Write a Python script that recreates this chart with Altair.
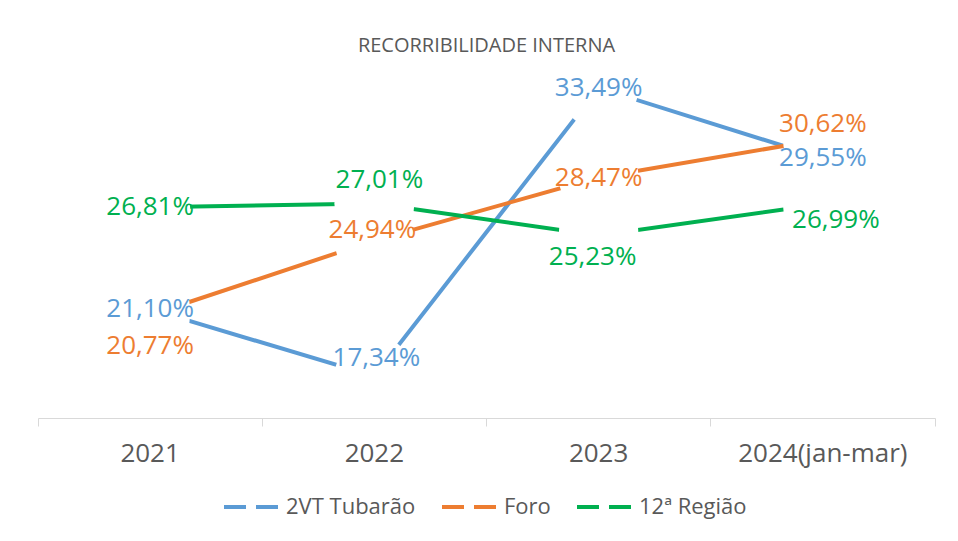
import altair as alt
import pandas as pd

categories = ["2021", "2022", "2023", "2024(jan-mar)"]
series_names = ["2VT Tubarão", "Foro", "12ª Região"]
vt_tubarao = [21.10, 17.34, 33.49, 29.55]
foro = [20.77, 24.94, 28.47, 30.62]
regiao12 = [26.81, 27.01, 25.23, 26.99]
colors = ["#5B9BD5", "#ED7D31", "#00B050"]

# label placement tweaks (vertical in percentage points, horizontal in px)
label_shift_y = [[0, 1.0, 0, 0], [-1.76, 0.58, 0, 0.84], [0, 1.31, -1.23, -0.91]]
label_shift_x = [[0, 2, 0, 0], [0, -2, 0, 0], [0, 5, -6, 13]]

rows = []
for s, name in enumerate(series_names):
    vals = [vt_tubarao, foro, regiao12][s]
    for i, cat in enumerate(categories):
        v = vals[i]
        rows.append({
            "series": name,
            "year": cat,
            "value": v,
            "label": f"{v:.2f}".replace(".", ",") + "%",
            "label_y": v + label_shift_y[s][i],
            "dx": label_shift_x[s][i],
        })
df = pd.DataFrame(rows)

FONT = "Open Sans"
GRAY = "#595959"

x_enc = alt.X(
    "year:N",
    sort=categories,
    scale=alt.Scale(type="band", paddingInner=0, paddingOuter=0),
    bandPosition=0.5,
    axis=alt.Axis(
        title=None, labelAngle=0, bandPosition=1, tickExtra=True,
        labelFont=FONT, labelFontSize=26, labelColor=GRAY,
        domainColor="#D9D9D9", tickColor="#D9D9D9", tickSize=8,
        labelPadding=14, grid=False,
    ),
)
y_scale = alt.Scale(domain=[15, 35], nice=False, zero=False)

base = alt.Chart(df)

lines = base.mark_line(strokeWidth=4).encode(
    x=x_enc,
    y=alt.Y("value:Q", scale=y_scale, axis=None),
    color=alt.Color(
        "series:N",
        sort=series_names,
        scale=alt.Scale(domain=series_names, range=colors),
        legend=alt.Legend(title=None),
    ),
    detail="series:N",
)

gaps = base.mark_point(filled=True, color="white", opacity=1, size=6400, shape="circle", strokeWidth=0).encode(
    x=x_enc,
    y=alt.Y("value:Q", scale=y_scale, axis=None),
)

label_layers = []
for d in sorted(set(df["dx"])):
    label_layers.append(
        base.transform_filter(alt.datum.dx == int(d))
        .mark_text(font=FONT, fontSize=26, baseline="middle", align="center", dx=int(d))
        .encode(
            x=x_enc,
            y=alt.Y("label_y:Q", scale=y_scale, axis=None),
            text="label:N",
            fill=alt.Fill(
                "series:N",
                scale=alt.Scale(domain=series_names, range=colors),
                legend=None,
            ),
        )
    )

chart = (
    alt.layer(lines, gaps, *label_layers)
    .properties(
        width=897,
        height=357,
        title=alt.Title(
            "RECORRIBILIDADE INTERNA", font=FONT, fontSize=20, fontWeight="normal",
            color=GRAY, anchor="middle", frame="group", offset=-8,
        ),
        autosize=alt.AutoSizeParams(type="none"),
        padding={"left": 30, "top": 53, "right": 15, "bottom": 107},
        background="white",
    )
    .configure_view(stroke=None)
    .configure_legend(
        orient="none", legendX=184, legendY=416, direction="horizontal",
        symbolType="stroke", symbolStrokeWidth=4, symbolSize=3136,
        symbolDash=[22, 10], labelFont=FONT, labelFontSize=22, labelColor=GRAY,
        columnPadding=18, labelOffset=4,
    )
)

chart.save("out.html", embed_options={"renderer": "svg", "actions": False})
